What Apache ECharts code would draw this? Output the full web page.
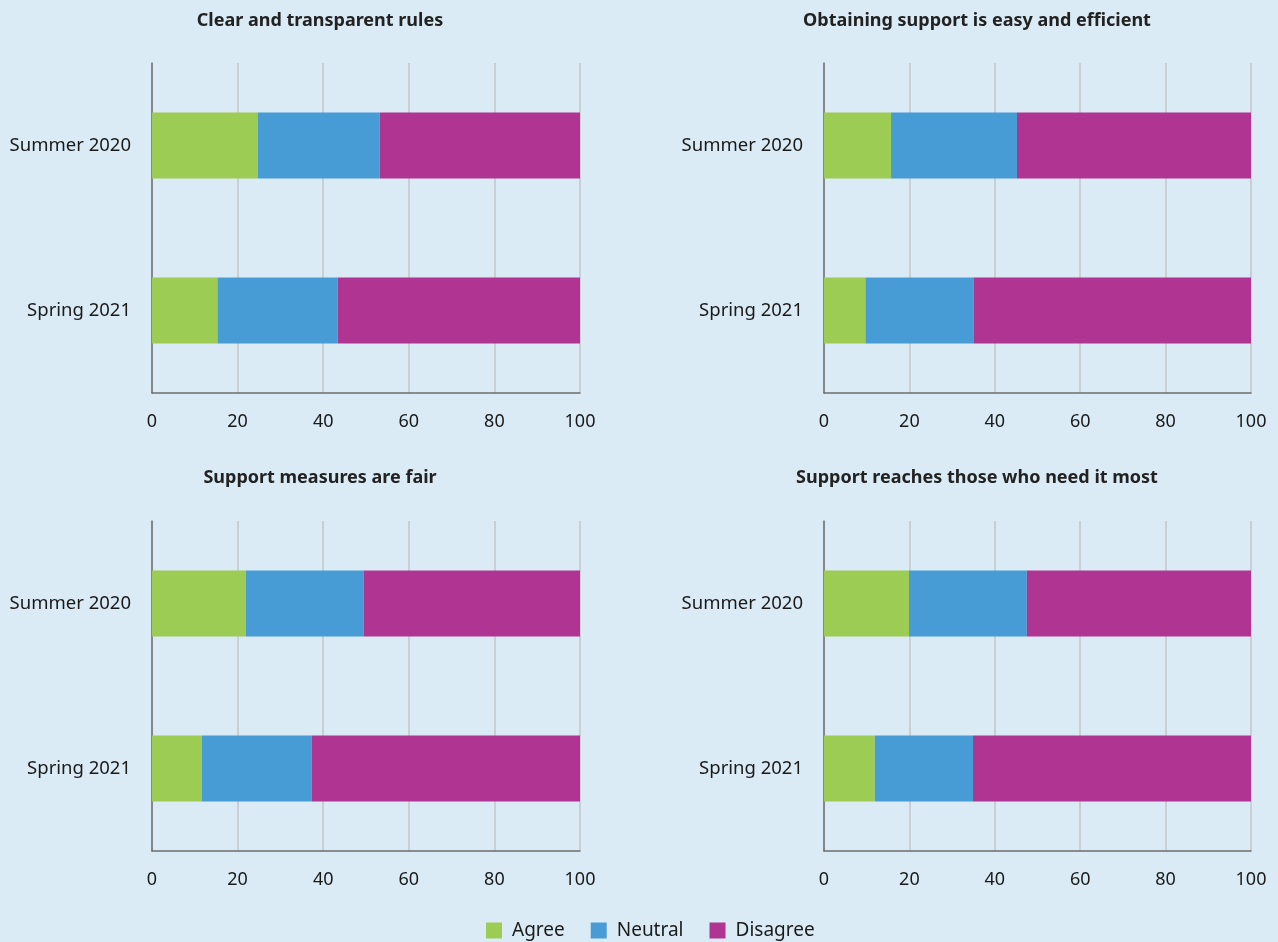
<!DOCTYPE html>
<html>
<head>
<meta charset="utf-8">
<script src="https://cdn.jsdelivr.net/npm/echarts@6/dist/echarts.min.js"></script>
<style>
html,body{margin:0;padding:0;background:#daebf5;}
#c{width:1278px;height:942px;}
</style>
</head>
<body>
<div id="c"></div>
<script>
const categories = ['Summer 2020', 'Spring 2021'];
const panelTitles = [
  'Clear and transparent rules',
  'Obtaining support is easy and efficient',
  'Support measures are fair',
  'Support reaches those who need it most'
];
const seriesNames = ['Agree', 'Neutral', 'Disagree'];
const xTicks = [0, 20, 40, 60, 80, 100];
// values per panel: [Summer 2020, Spring 2021]
const agree = [[24.7, 15.3], [15.7, 9.7], [21.9, 11.6], [19.9, 11.9]];
const neutral = [[28.5, 28.1], [29.5, 25.3], [27.6, 25.7], [27.6, 23.0]];
const disagree = [[46.8, 56.6], [54.8, 65.0], [50.5, 62.7], [52.5, 65.1]];

const colors = ['#9dcc55', '#479cd5', '#b03592'];
const font = '"Noto Sans", sans-serif';

const gridPos = [
  {left: 152, top: 63, width: 428, height: 330},
  {left: 824, top: 63, width: 427, height: 330},
  {left: 152, top: 521, width: 428, height: 330},
  {left: 824, top: 521, width: 427, height: 330}
];
const titlePos = [
  {x: 320, y: 12}, {x: 977, y: 12}, {x: 320, y: 469}, {x: 977, y: 469}
];

const grids = [], xAxes = [], yAxes = [], series = [], titles = [];
const valueSets = [agree, neutral, disagree];
for (let i = 0; i < 4; i++) {
  grids.push(Object.assign({containLabel: false}, gridPos[i]));
  xAxes.push({
    type: 'value', gridIndex: i, min: 0, max: 100, interval: 20,
    axisLine: {show: true, lineStyle: {color: '#6e6e6e', width: 1.5}},
    axisTick: {show: false},
    splitLine: {show: true, lineStyle: {color: '#c2c6ca', width: 1.5}},
    axisLabel: {color: '#1a1a1a', fontSize: 18, fontFamily: font, margin: 20,
      formatter: v => xTicks.includes(v) ? String(v) : ''}
  });
  yAxes.push({
    type: 'category', gridIndex: i, data: categories, inverse: true,
    axisLine: {show: true, lineStyle: {color: '#6e6e6e', width: 1.5}},
    axisTick: {show: false},
    axisLabel: {color: '#1a1a1a', fontSize: 18.5, fontFamily: font, margin: 21}
  });
  titles.push({
    text: panelTitles[i], left: titlePos[i].x, top: titlePos[i].y,
    textAlign: 'center', padding: 0,
    textStyle: {fontSize: 18, fontWeight: 'bold', color: '#222', fontFamily: font}
  });
  for (let s = 0; s < 3; s++) {
    series.push({
      name: seriesNames[s], type: 'bar', stack: 'p' + i,
      xAxisIndex: i, yAxisIndex: i, barWidth: '40%',
      itemStyle: {color: colors[s]},
      data: valueSets[s][i]
    });
  }
}

const chart = echarts.init(document.getElementById('c'));
chart.setOption({
  backgroundColor: '#daebf5',
  animation: false,
  title: titles,
  grid: grids,
  xAxis: xAxes,
  yAxis: yAxes,
  legend: {
    data: seriesNames, top: 921, left: 486, padding: 0,
    itemWidth: 16, itemHeight: 16, itemGap: 26, icon: 'rect',
    textStyle: {fontSize: 19, color: '#1a1a1a', fontFamily: font, padding: [0, 0, 0, 5]}
  },
  series: series
});
</script>
</body>
</html>
